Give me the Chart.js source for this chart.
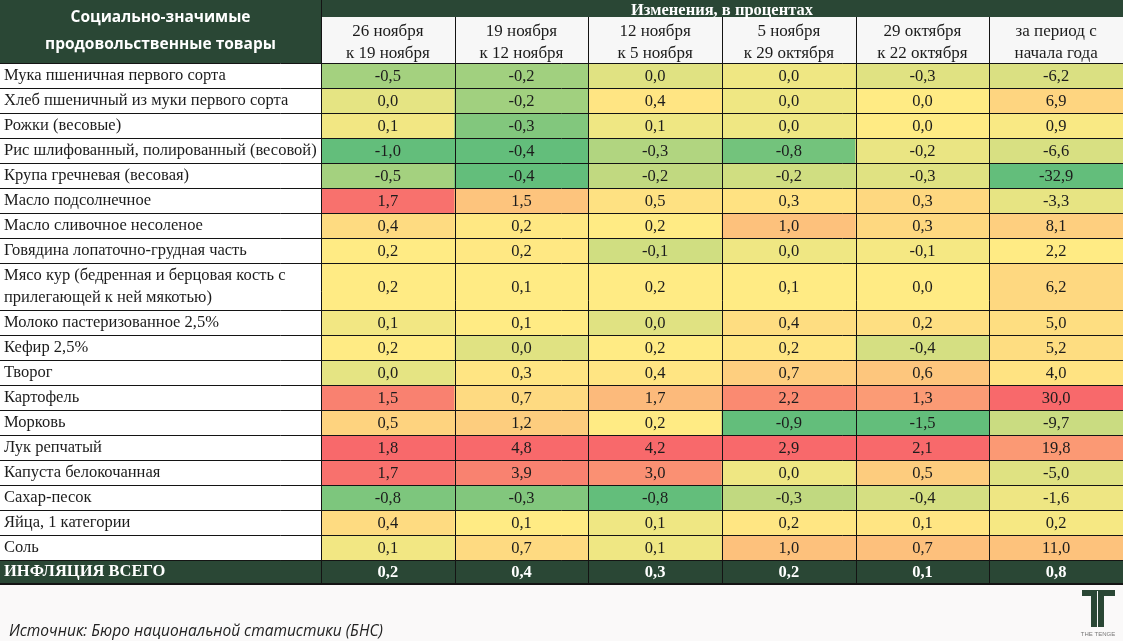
<!DOCTYPE html>
<html><head><meta charset="utf-8">
<script src="https://cdn.jsdelivr.net/npm/chart.js@4.4.1/dist/chart.umd.min.js"></script>
<style>html,body{margin:0;padding:0;background:#faf9f9;}#wrap{width:1123px;height:641px;}</style>
</head><body><div id="wrap"><canvas id="c" width="1123" height="641"></canvas></div>
<script>
// ---------- DATA ----------
const products = [
  'Мука пшеничная первого сорта',
  'Хлеб пшеничный из муки первого сорта',
  'Рожки (весовые)',
  'Рис шлифованный, полированный (весовой)',
  'Крупа гречневая (весовая)',
  'Масло подсолнечное',
  'Масло сливочное несоленое',
  'Говядина лопаточно-грудная часть',
  ['Мясо кур (бедренная и берцовая кость с', 'прилегающей к ней мякотью)'],
  'Молоко пастеризованное 2,5%',
  'Кефир 2,5%',
  'Творог',
  'Картофель',
  'Морковь',
  'Лук репчатый',
  'Капуста белокочанная',
  'Сахар-песок',
  'Яйца, 1 категории',
  'Соль'
];
const totalLabel = 'ИНФЛЯЦИЯ ВСЕГО';
const periods = [
  ['26 ноября', 'к 19 ноября'],
  ['19 ноября', 'к 12 ноября'],
  ['12 ноября', 'к 5 ноября'],
  ['5 ноября', 'к 29 октября'],
  ['29 октября', 'к 22 октября'],
  ['за период с', 'начала года']
];
const nov26 = [-0.5, 0.0, 0.1, -1.0, -0.5, 1.7, 0.4, 0.2, 0.2, 0.1, 0.2, 0.0, 1.5, 0.5, 1.8, 1.7, -0.8, 0.4, 0.1];
const nov19 = [-0.2, -0.2, -0.3, -0.4, -0.4, 1.5, 0.2, 0.2, 0.1, 0.1, 0.0, 0.3, 0.7, 1.2, 4.8, 3.9, -0.3, 0.1, 0.7];
const nov12 = [0.0, 0.4, 0.1, -0.3, -0.2, 0.5, 0.2, -0.1, 0.2, 0.0, 0.2, 0.4, 1.7, 0.2, 4.2, 3.0, -0.8, 0.1, 0.1];
const nov5  = [0.0, 0.0, 0.0, -0.8, -0.2, 0.3, 1.0, 0.0, 0.1, 0.4, 0.2, 0.7, 2.2, -0.9, 2.9, 0.0, -0.3, 0.2, 1.0];
const oct29 = [-0.3, 0.0, 0.0, -0.2, -0.3, 0.3, 0.3, -0.1, 0.0, 0.2, -0.4, 0.6, 1.3, -1.5, 2.1, 0.5, -0.4, 0.1, 0.7];
const ytd   = [-6.2, 6.9, 0.9, -6.6, -32.9, -3.3, 8.1, 2.2, 6.2, 5.0, 5.2, 4.0, 30.0, -9.7, 19.8, -5.0, -1.6, 0.2, 11.0];
const inflationTotal = [0.2, 0.4, 0.3, 0.2, 0.1, 0.8];

// ---------- LAYOUT (row heights in row units) ----------
const rowSpans = [1,1,1,1,1,1,1,1,1.88,1,1,1,1,1,1,1,1,1,1,0.92];

// ---------- STYLE ----------
const DARK_GREEN = '#2a4735';
const C_MIN = [99,190,123], C_MID = [255,235,132], C_MAX = [248,105,107];
function scaleColor(values){
  const s = [...values].sort((a,b)=>a-b);
  const pos = (s.length-1)*0.5, lo = Math.floor(pos), hi = Math.ceil(pos);
  const mid = s[lo] + (s[hi]-s[lo])*(pos-lo), min = s[0], max = s[s.length-1];
  const mix = (a,b,t)=>'rgb('+a.map((v,i)=>Math.round(v+(b[i]-v)*t)).join(',')+')';
  return v => v <= mid ? mix(C_MIN, C_MID, mid===min?1:(v-min)/(mid-min))
                       : mix(C_MID, C_MAX, (v-mid)/(max-mid));
}
const columns = [nov26, nov19, nov12, nov5, oct29, ytd];
const colScales = columns.map(scaleColor);

const rowLabels = [...products, totalLabel];
const bounds = [0];
rowSpans.forEach(s => bounds.push(bounds[bounds.length-1] + s));
const centers = rowSpans.map((s,i)=> bounds[i] + s/2);
const fmt = v => v.toFixed(1).replace('.', ',');

const datasets = rowLabels.map((lab, r) => {
  const isTotal = r === products.length;
  return {
    label: Array.isArray(lab) ? lab.join(' ') : lab,
    data: columns.map(() => [bounds[r], bounds[r+1]]),
    values: isTotal ? inflationTotal : columns.map(col => col[r]),
    backgroundColor: isTotal ? columns.map(()=>DARK_GREEN) : columns.map((col,c)=>colScales[c](col[r])),
    isTotal,
    grouped: false,
    barPercentage: 1,
    categoryPercentage: 1,
    borderWidth: 0,
    borderSkipped: false
  };
});

const SERIF = '"Liberation Serif", "Times New Roman", serif';
const HEADER_BAND = 17;

const tablePlugin = {
  id: 'table',
  beforeDraw(chart){
    const {ctx, chartArea: ca, scales: {y}} = chart;
    ctx.save();
    ctx.fillStyle = '#faf9f9';
    ctx.fillRect(0, 0, chart.width, chart.height);
    const tTop = y.getPixelForValue(bounds[products.length]);
    const tBot = y.getPixelForValue(bounds[products.length+1]);
    ctx.fillStyle = '#ffffff';
    ctx.fillRect(0, ca.top, ca.left, tTop - ca.top);
    ctx.fillStyle = DARK_GREEN;
    ctx.fillRect(0, tTop, ca.left, tBot - tTop);
    ctx.fillRect(0, 0, chart.width, HEADER_BAND);
    ctx.fillRect(0, 0, ca.left, ca.top);
    ctx.fillStyle = '#f7f7f7';
    ctx.fillRect(ca.left, HEADER_BAND, ca.right - ca.left, ca.top - HEADER_BAND);
    ctx.restore();
  },
  afterDatasetsDraw(chart){
    const {ctx, chartArea: ca, scales: {x, y}} = chart;
    ctx.save();
    ctx.strokeStyle = '#141414';
    ctx.lineWidth = 1;
    ctx.beginPath();
    bounds.forEach(b => {
      const py = Math.round(y.getPixelForValue(b)) + 0.5;
      ctx.moveTo(0, py); ctx.lineTo(ca.right, py);
    });
    const bottom = Math.round(y.getPixelForValue(bounds[bounds.length-1])) + 0.5;
    ctx.moveTo(ca.left + 0.5, 0); ctx.lineTo(ca.left + 0.5, bottom);
    for (let c = 1; c < periods.length; c++){
      const px = Math.round((x.getPixelForValue(c-1) + x.getPixelForValue(c))/2) + 0.5;
      ctx.moveTo(px, HEADER_BAND); ctx.lineTo(px, bottom);
    }
    ctx.stroke();
    ctx.fillStyle = '#141414';
    ctx.fillRect(0, bottom - 0.5, ca.right, 2);
    // cell values
    ctx.textAlign = 'center';
    ctx.textBaseline = 'middle';
    chart.data.datasets.forEach((ds, di) => {
      const meta = chart.getDatasetMeta(di);
      ctx.font = (ds.isTotal ? 'bold ' : '') + '16.5px ' + SERIF;
      ctx.fillStyle = ds.isTotal ? '#ffffff' : '#1c1c1c';
      meta.data.forEach((el, i) => {
        ctx.fillText(fmt(ds.values[i]), el.x, (el.y + el.base)/2 + 1.5);
      });
    });
    ctx.restore();
  },
  afterDraw(chart){
    const {ctx, chartArea: ca} = chart;
    ctx.save();
    ctx.fillStyle = '#ffffff';
    ctx.textAlign = 'center';
    ctx.textBaseline = 'middle';
    ctx.font = 'bold 15.5px "Open Sans", "Noto Sans", sans-serif';
    ctx.fillText('Социально-значимые', ca.left/2, 18);
    ctx.fillText('продовольственные товары', ca.left/2, 45);
    // source
    ctx.textAlign = 'left';
    ctx.fillStyle = '#222222';
    ctx.font = 'italic 15.5px "Open Sans", "Noto Sans", sans-serif';
    ctx.fillText('Источник: Бюро национальной статистики (БНС)', 9, 632);
    // logo
    ctx.fillStyle = DARK_GREEN;
    ctx.fillRect(1082, 590, 33, 6);
    ctx.fillRect(1091, 596, 13, 31);
    ctx.fillStyle = '#faf9f9';
    ctx.fillRect(1097, 591, 1, 36);
    ctx.fillStyle = '#777';
    ctx.textAlign = 'center';
    ctx.font = '6px "Liberation Sans", sans-serif';
    ctx.fillText('THE TENGE', 1098, 634);
    ctx.restore();
  }
};

new Chart(document.getElementById('c'), {
  type: 'bar',
  data: { labels: periods, datasets },
  options: {
    responsive: false,
    animation: false,
    devicePixelRatio: 1,
    layout: { padding: { left: 4, right: 0, top: 0, bottom: 58 } },
    plugins: { legend: { display: false }, tooltip: { enabled: false } },
    scales: {
      x: {
        type: 'category',
        position: 'top',
        offset: true,
        grid: { display: false, drawTicks: false },
        border: { display: false },
        ticks: {
          color: '#1c1c1c',
          font: { family: SERIF, size: 17, lineHeight: 1.3 },
          padding: -2,
          maxRotation: 0,
          autoSkip: false
        },
        title: {
          display: true,
          text: 'Изменения, в процентах',
          color: '#ffffff',
          font: { family: SERIF, size: 16.5, weight: 'bold', lineHeight: 1.1 },
          padding: { top: 2, bottom: 0 }
        },
        afterFit: s => { s.height = 63; }
      },
      y: {
        type: 'linear',
        min: 0,
        max: bounds[bounds.length-1],
        reverse: true,
        grid: { display: false, drawTicks: false },
        border: { display: false },
        afterBuildTicks: s => { s.ticks = centers.map(v => ({ value: v })); },
        ticks: {
          autoSkip: false,
          crossAlign: 'far',
          padding: 0,
          callback: (v, i) => rowLabels[i],
          color: c => c.index === products.length ? '#ffffff' : '#1c1c1c',
          font: c => ({ family: SERIF, size: 16.5, lineHeight: 1.35, weight: c.index === products.length ? 'bold' : 'normal' })
        },
        afterFit: s => { s.width = 317; }
      }
    }
  },
  plugins: [tablePlugin]
});
</script>
</body></html>
